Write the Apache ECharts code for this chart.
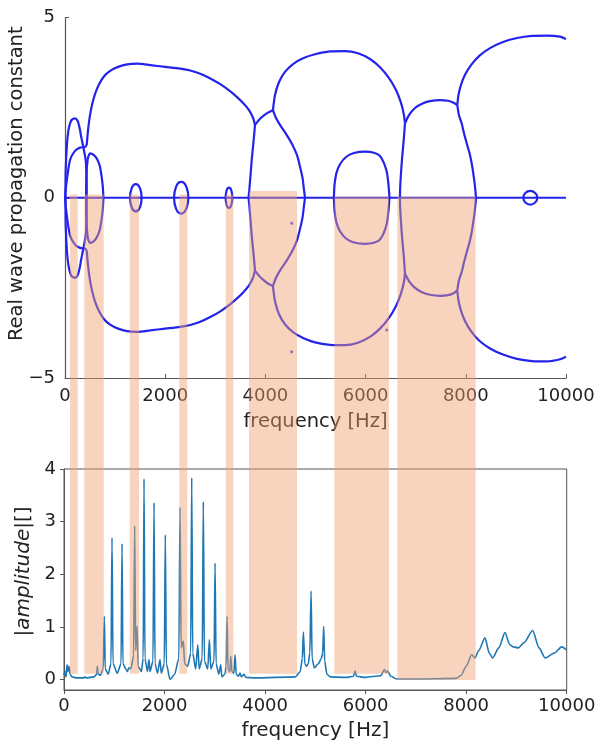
<!DOCTYPE html>
<html><head><meta charset="utf-8">
<script src="https://cdn.jsdelivr.net/npm/echarts@6/dist/echarts.min.js"></script>
<style>html,body{margin:0;padding:0;background:#fff}#c{width:600px;height:746px}</style>
</head><body><div id="c"></div>
<script>
// ---------- Top panel: real wave propagation constant branches [Hz, value] ----------
const zeroLine = [[0,0],[10000,0]];
const archE_up = [[0,0],[20,0.31],[100,1.05],[200,1.30],[299,1.39],[399,1.41],[433,1.46]];
const archE_lo = [[0,0],[20,-0.31],[100,-1.05],[200,-1.30],[299,-1.39],[399,-1.41],[433,-1.46]];
const archD_up = [[10,0],[14,0.77],[40,1.5],[66,1.85],[100,2.06],[134,2.16],[200,2.20],[240,2.16],[266,2.08],[300,1.88],[319,1.72],[365,1.41],[413,1.04],[429,0.63],[433,0]];
const archD_lo = [[10,0],[14,-0.77],[40,-1.5],[66,-1.85],[100,-2.07],[134,-2.18],[200,-2.22],[240,-2.18],[266,-2.1],[300,-1.9],[319,-1.74],[365,-1.42],[413,-1.04],[429,-0.63],[433,0]];
const archF_up = [[420,0],[425,0.4],[433,0.77],[450,1.03],[465,1.14],[500,1.23],[533,1.22],[580,1.18],[633,1.09],[670,0.98],[699,0.86],[732,0.58],[755,0.3],[765,0.05],[766,0]];
const archF_lo = [[420,0],[425,-0.4],[433,-0.77],[450,-1.05],[465,-1.16],[500,-1.25],[533,-1.24],[580,-1.2],[633,-1.1],[670,-0.99],[699,-0.86],[732,-0.58],[755,-0.3],[765,-0.05],[766,0]];
const archA_up = [[433,1.46],[449,1.72],[470,2.0],[500,2.3],[540,2.58],[600,2.88],[680,3.15],[780,3.37],[900,3.52],[1060,3.63],[1240,3.70],[1440,3.72],[1700,3.68],[2000,3.63],[2300,3.58],[2500,3.53],[2700,3.44],[2900,3.31],[3100,3.15],[3300,2.95],[3450,2.77],[3560,2.62],[3673,2.43],[3753,2.22],[3792,2.02]];
const archA_lo = [[433,-1.46],[449,-1.72],[470,-2.0],[500,-2.3],[540,-2.58],[600,-2.88],[680,-3.15],[780,-3.37],[900,-3.52],[1060,-3.63],[1240,-3.70],[1440,-3.72],[1700,-3.68],[2000,-3.63],[2300,-3.58],[2500,-3.53],[2700,-3.44],[2900,-3.31],[3100,-3.15],[3300,-2.95],[3450,-2.77],[3560,-2.62],[3673,-2.43],[3753,-2.22],[3792,-2.02]];
const j1Down_up = [[3792,2.02],[3772,1.69],[3727,1.05],[3679,0.21],[3663,0]];
const j1Down_lo = [[3792,-2.02],[3772,-1.69],[3727,-1.05],[3679,-0.21],[3663,0]];
const j1j2_up = [[3792,2.02],[3870,2.16],[3958,2.27],[4050,2.36],[4150,2.43]];
const j1j2_lo = [[3792,-2.02],[3870,-2.16],[3958,-2.28],[4050,-2.38],[4150,-2.45]];
const archB_up = [[4150,2.43],[4192,2.85],[4272,3.21],[4391,3.49],[4551,3.71],[4751,3.87],[4990,3.98],[5289,4.06],[5589,4.07],[5848,4.01],[6088,3.85],[6287,3.62],[6467,3.32],[6607,2.99],[6707,2.63],[6766,2.29],[6786,2.06]];
const archB_lo = [[4150,-2.45],[4192,-2.87],[4272,-3.23],[4391,-3.51],[4551,-3.73],[4751,-3.89],[4990,-4.01],[5289,-4.08],[5589,-4.09],[5848,-4.02],[6088,-3.86],[6287,-3.63],[6467,-3.33],[6607,-3.0],[6707,-2.65],[6766,-2.33],[6786,-2.1]];
const j2Down_up = [[4150,2.43],[4212,2.21],[4291,2.02],[4411,1.77],[4531,1.49],[4631,1.18],[4691,0.86],[4741,0.55],[4771,0.21],[4791,0]];
const j2Down_lo = [[4150,-2.45],[4212,-2.22],[4291,-2.02],[4411,-1.77],[4531,-1.49],[4631,-1.18],[4691,-0.86],[4741,-0.55],[4771,-0.21],[4791,0]];
const archC_up = [[5363,0],[5369,0.07],[5379,0.35],[5419,0.69],[5489,0.93],[5609,1.13],[5768,1.24],[5988,1.28],[6167,1.25],[6287,1.16],[6367,0.96],[6427,0.69],[6457,0.35],[6473,0.07],[6475,0]];
const archC_lo = [[5363,0],[5369,-0.07],[5379,-0.35],[5419,-0.69],[5489,-0.93],[5609,-1.13],[5768,-1.24],[5988,-1.28],[6167,-1.25],[6287,-1.16],[6367,-0.96],[6427,-0.69],[6457,-0.35],[6473,-0.07],[6475,0]];
const j3Down_up = [[6786,2.06],[6766,1.69],[6720,0.95],[6687,0.12],[6687,0]];
const j3Down_lo = [[6786,-2.1],[6766,-1.69],[6720,-0.95],[6687,-0.12],[6687,0]];
const j3j4_up = [[6786,2.06],[6866,2.29],[6986,2.49],[7126,2.61],[7285,2.68],[7485,2.71],[7645,2.69],[7765,2.63],[7830,2.57]];
const j3j4_lo = [[6786,-2.1],[6866,-2.31],[6986,-2.5],[7126,-2.62],[7285,-2.69],[7485,-2.72],[7645,-2.7],[7765,-2.64],[7830,-2.57]];
const archG_up = [[7830,2.57],[7854,2.85],[7904,3.13],[7984,3.41],[8104,3.68],[8264,3.93],[8483,4.15],[8743,4.32],[9022,4.43],[9321,4.49],[9621,4.50],[9880,4.47],[10000,4.40]];
const archG_lo = [[7830,-2.57],[7854,-2.85],[7904,-3.13],[7984,-3.42],[8104,-3.7],[8264,-3.96],[8483,-4.18],[8743,-4.35],[9022,-4.47],[9321,-4.53],[9621,-4.54],[9880,-4.48],[10000,-4.41]];
const j4Down_up = [[7830,2.57],[7864,2.29],[7918,2.06],[7964,1.79],[8018,1.51],[8074,1.24],[8118,0.95],[8154,0.63],[8184,0.31],[8204,0]];
const j4Down_lo = [[7830,-2.57],[7864,-2.29],[7918,-2.06],[7964,-1.79],[8018,-1.51],[8074,-1.24],[8118,-0.95],[8154,-0.63],[8184,-0.31],[8204,0]];
const loop1 = [[1297,0],[1331,0.27],[1413,0.38],[1495,0.27],[1529,0],[1495,-0.27],[1413,-0.38],[1331,-0.27],[1297,0]];
const loop2 = [[2176,0],[2218,0.31],[2319,0.44],[2420,0.31],[2462,0],[2420,-0.31],[2319,-0.44],[2218,-0.31],[2176,0]];
const loop3 = [[3206,0],[3226,0.2],[3273,0.28],[3320,0.2],[3340,0],[3320,-0.2],[3273,-0.28],[3226,-0.2],[3206,0]];
const loop4 = [[9147,0],[9188,0.13],[9287,0.19],[9386,0.13],[9427,0],[9386,-0.13],[9287,-0.19],[9188,-0.13],[9147,0]];
const strayPoints = [[4525,-0.71],[4525,-4.27],[6421,-3.67]];

// ---------- Bottom panel: amplitude spectrum [Hz, |amplitude|] ----------
const spectrum = [[0,0.08],[20,0.15],[40,0.05],[60,0.28],[80,0.15],[100,0.25],[120,0.1],[160,0.05],[250,0.03],[400,0.03],[418,0.05],[440,0.03],[600,0.05],[650,0.1],[663,0.25],[680,0.1],[720,0.08],[780,0.2],[802,1.20],[820,0.2],[880,0.1],[935,0.3],[955,2.69],[975,0.3],[1060,0.12],[1135,0.3],[1154,2.58],[1172,0.3],[1230,0.2],[1260,0.15],[1290,0.22],[1330,0.2],[1385,0.45],[1406,2.92],[1425,0.55],[1453,1.01],[1475,0.25],[1540,0.15],[1575,0.4],[1592,3.81],[1610,0.4],[1660,0.15],[1691,0.38],[1710,0.15],[1770,0.35],[1791,3.36],[1810,0.3],[1860,0.12],[1910,0.38],[1935,0.12],[1995,0.3],[2016,2.75],[2035,0.3],[2110,0.0],[2200,0.1],[2285,0.4],[2308,3.27],[2330,0.6],[2374,0.73],[2400,0.3],[2460,0.25],[2520,0.5],[2541,3.83],[2560,0.5],[2620,0.2],[2661,0.66],[2690,0.2],[2750,0.4],[2772,3.38],[2792,0.35],[2860,0.2],[2892,0.76],[2920,0.2],[2985,0.35],[3005,2.21],[3025,0.3],[3080,0.1],[3118,0.28],[3140,0.05],[3200,0.1],[3225,0.25],[3244,1.20],[3262,0.2],[3300,0.15],[3317,0.44],[3340,0.15],[3380,0.12],[3403,0.47],[3425,0.1],[3470,0.06],[3500,0.12],[3530,0.05],[3580,0.1],[3620,0.04],[3800,0.03],[4600,0.05],[4700,0.15],[4740,0.4],[4762,0.90],[4790,0.3],[4828,0.25],[4860,0.3],[4890,0.5],[4915,1.68],[4935,0.4],[4980,0.22],[5060,0.3],[5120,0.4],[5145,0.5],[5166,1.01],[5185,0.35],[5230,0.1],[5300,0.05],[5600,0.04],[5760,0.06],[5790,0.16],[5820,0.06],[6000,0.04],[6300,0.07],[6373,0.19],[6405,0.13],[6440,0.16],[6500,0.06],[6617,0.01],[7000,0.01],[7800,0.02],[7900,0.08],[8000,0.25],[8110,0.47],[8175,0.41],[8250,0.55],[8374,0.79],[8460,0.5],[8526,0.41],[8650,0.6],[8772,0.89],[8870,0.66],[8938,0.62],[9038,0.60],[9150,0.7],[9323,0.93],[9450,0.6],[9570,0.41],[9750,0.5],[9900,0.62],[10000,0.56]];

// ---------- Shaded stop bands ----------
const bandStart  = [100, 385, 1291, 2282, 3207, 3673, 5376, 6633];
const bandEnd    = [253, 772, 1477, 2441, 3360, 4631, 6467, 8197];
const bandTop    = [0.09, 0.09, 0.09, 0.09, 0.09, 0.19, 0.03, 0.03];   // top-panel units
const bandBottom = [0.11, 0.11, 0.11, 0.11, 0.11, 0.11, 0.11, -0.01]; // bottom-panel units

// ---------- Ticks ----------
const botYTicks = [0, 1, 2, 3, 4];

const chart = echarts.init(document.getElementById('c'), null, {renderer: 'canvas'});
const FONT = 'DejaVu Sans';
const BLUE = '#2323ec';

const branches = [zeroLine, archE_up, archE_lo, archD_up, archD_lo, archF_up, archF_lo, archA_up, archA_lo,
  j1Down_up, j1Down_lo, j1j2_up, j1j2_lo, archB_up, archB_lo, j2Down_up, j2Down_lo, archC_up, archC_lo,
  j3Down_up, j3Down_lo, j3j4_up, j3j4_lo, archG_up, archG_lo, j4Down_up, j4Down_lo];
const loops = [loop1, loop2, loop3, loop4];

const baseSeries = [];
branches.forEach(b => baseSeries.push({type: 'line', xAxisIndex: 0, yAxisIndex: 0, data: b, symbol: 'none',
  smooth: 0.25, lineStyle: {color: BLUE, width: 2.2}, z: 3, silent: true}));
loops.forEach(b => baseSeries.push({type: 'line', xAxisIndex: 0, yAxisIndex: 0, data: b, symbol: 'none',
  smooth: 0.55, lineStyle: {color: BLUE, width: 2.2}, z: 3, silent: true}));
baseSeries.push({type: 'scatter', xAxisIndex: 0, yAxisIndex: 0, data: strayPoints, symbolSize: 3,
  itemStyle: {color: BLUE}, z: 3, silent: true});
baseSeries.push({type: 'line', xAxisIndex: 1, yAxisIndex: 1, data: spectrum, symbol: 'none',
  smooth: 0.25, smoothMonotone: 'x', lineStyle: {color: '#1f77b4', width: 1.6}, z: 3, silent: true});

const axisCol = '#555';
const plain = v => v < 0 ? '\u2212' + Math.abs(v) : String(v);
const option = {
  animation: false,
  backgroundColor: '#fff',
  grid: [
    {left: 65, top: 17.5, width: 501, height: 360.5, outerBoundsMode: 'none', containLabel: false},
    {left: 64, top: 469, width: 502.7, height: 221, show: true, borderColor: axisCol, borderWidth: 1,
     outerBoundsMode: 'none', containLabel: false}
  ],
  xAxis: [
    {gridIndex: 0, type: 'value', min: 0, max: 10000, interval: 2000,
     axisLine: {show: true, onZero: false, lineStyle: {color: axisCol, width: 1.2}},
     axisTick: {show: true, inside: true, length: 4, lineStyle: {color: axisCol}},
     axisLabel: {fontFamily: FONT, fontSize: 18, color: '#222', margin: 9, formatter: plain},
     splitLine: {show: false},
     name: 'frequency [Hz]', nameLocation: 'middle', nameGap: 34, nameMoveOverlap: false,
     nameTextStyle: {fontFamily: FONT, fontSize: 19.5, color: '#222'}},
    {gridIndex: 1, type: 'value', min: 0, max: 10000, interval: 2000,
     axisLine: {show: true, onZero: false, lineStyle: {color: axisCol, width: 1}},
     axisTick: {show: true, inside: false, length: 4, lineStyle: {color: axisCol}},
     axisLabel: {fontFamily: FONT, fontSize: 18, color: '#222', margin: 7, formatter: plain},
     splitLine: {show: false},
     name: 'frequency [Hz]', nameLocation: 'middle', nameGap: 31, nameMoveOverlap: false,
     nameTextStyle: {fontFamily: FONT, fontSize: 20, color: '#222'}}
  ],
  yAxis: [
    {gridIndex: 0, type: 'value', min: -5, max: 5, interval: 5,
     axisLine: {show: true, onZero: false, lineStyle: {color: axisCol, width: 1.2}},
     axisTick: {show: true, inside: true, length: 4, lineStyle: {color: axisCol}},
     axisLabel: {fontFamily: FONT, fontSize: 18, color: '#222', margin: 10, formatter: plain},
     splitLine: {show: false},
     name: 'Real wave propagation constant', nameLocation: 'middle', nameGap: 38, nameRotate: 90,
     nameMoveOverlap: false,
     nameTextStyle: {fontFamily: FONT, fontSize: 19.5, color: '#222', padding: [0, 0, 0, 28]}},
    {gridIndex: 1, type: 'value', min: -0.2, max: 4,
     axisLine: {show: true, onZero: false, lineStyle: {color: axisCol, width: 1}},
     axisTick: {show: true, inside: false, length: 4, lineStyle: {color: axisCol}, customValues: botYTicks},
     axisLabel: {fontFamily: FONT, fontSize: 18, color: '#222', margin: 8, customValues: botYTicks},
     splitLine: {show: false},
     name: '|{it|amplitude}|[]', nameLocation: 'middle', nameGap: 30, nameRotate: 90,
     nameMoveOverlap: false,
     nameTextStyle: {fontFamily: FONT, fontSize: 20, color: '#222', padding: [0, 0, 0, 16],
       rich: {it: {fontFamily: FONT, fontSize: 20, fontStyle: 'italic', color: '#222'}}}}
  ],
  series: baseSeries
};
chart.setOption(option);

const bandData = bandStart.map((s, i) => [s, bandEnd[i], bandTop[i], bandBottom[i]]);
const bandSeries = {
  type: 'custom', xAxisIndex: 0, yAxisIndex: 0, data: bandData, z: 10, silent: true, clip: false,
  encode: {x: [0, 1], y: 2},
  renderItem: function (params, api) {
    const f0 = api.value(0), f1 = api.value(1), vt = api.value(2), ab = api.value(3);
    const p0 = api.coord([f0, vt]);
    const p1 = api.coord([f1, vt]);
    const pb = chart.convertToPixel({xAxisIndex: 1, yAxisIndex: 1}, [f0, ab]);
    if (!pb) return null;
    return {type: 'rect', shape: {x: p0[0], y: p0[1], width: p1[0] - p0[0], height: pb[1] - p0[1]},
      style: {fill: 'rgba(240,160,110,0.45)'}};
  }
};
chart.setOption({series: baseSeries.concat([bandSeries])});
</script>
</body></html>
